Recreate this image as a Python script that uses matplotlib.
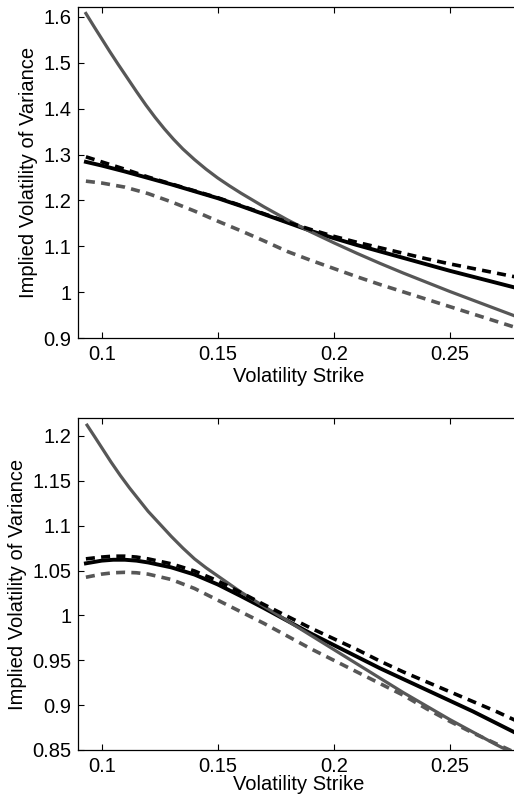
import matplotlib
matplotlib.use("Agg")
import matplotlib.pyplot as plt
from matplotlib.ticker import FixedLocator, FixedFormatter

plt.rcParams['font.family'] = ['Liberation Sans', 'DejaVu Sans']
plt.rcParams['lines.scale_dashes'] = False

# ---------------- top panel data ----------------
top_gray_x = [0.0932, 0.097, 0.100, 0.1035, 0.107, 0.111, 0.115, 0.119, 0.123, 0.127,
              0.131, 0.135, 0.140, 0.145, 0.150, 0.155, 0.160, 0.165, 0.170, 0.175,
              0.180, 0.185, 0.190, 0.195, 0.200, 0.210, 0.220, 0.230, 0.240, 0.250,
              0.260, 0.270, 0.280]
top_gray_y = [1.607, 1.576, 1.552, 1.524, 1.497, 1.467, 1.437, 1.408, 1.381, 1.356,
              1.333, 1.312, 1.289, 1.268, 1.249, 1.232, 1.216, 1.201, 1.186, 1.172,
              1.158, 1.145, 1.132, 1.120, 1.108, 1.085, 1.063, 1.042, 1.022, 1.002,
              0.983, 0.964, 0.945]

top_x = [0.0932, 0.100, 0.110, 0.120, 0.130, 0.140, 0.150, 0.160, 0.170, 0.180,
         0.190, 0.200, 0.210, 0.220, 0.230, 0.240, 0.250, 0.260, 0.270, 0.280]
top_black_y = [1.284, 1.276, 1.263, 1.249, 1.235, 1.220, 1.205, 1.188, 1.170, 1.152,
               1.134, 1.118, 1.103, 1.089, 1.075, 1.061, 1.047, 1.034, 1.021, 1.008]
top_black_dash_y = [1.295, 1.284, 1.268, 1.251, 1.236, 1.221, 1.206, 1.189, 1.171, 1.153,
                    1.137, 1.122, 1.109, 1.097, 1.085, 1.073, 1.062, 1.052, 1.042, 1.032]
top_gray_dash_y = [1.242, 1.238, 1.229, 1.215, 1.197, 1.177, 1.155, 1.134, 1.112, 1.089,
                   1.070, 1.052, 1.034, 1.017, 1.001, 0.985, 0.969, 0.953, 0.937, 0.921]

# ---------------- bottom panel data ----------------
bot_gray_x = [0.0937, 0.097, 0.100, 0.104, 0.108, 0.112, 0.116, 0.120, 0.125, 0.130,
              0.135, 0.140, 0.145, 0.150, 0.155, 0.160, 0.165, 0.170, 0.175, 0.180,
              0.185, 0.190, 0.195, 0.200, 0.210, 0.220, 0.230, 0.240, 0.250, 0.260,
              0.270, 0.280]
bot_gray_y = [1.212, 1.199, 1.187, 1.171, 1.156, 1.142, 1.129, 1.116, 1.102, 1.088,
              1.075, 1.063, 1.053, 1.044, 1.035, 1.026, 1.018, 1.010, 1.002, 0.994,
              0.986, 0.978, 0.970, 0.962, 0.946, 0.930, 0.914, 0.899, 0.884, 0.870,
              0.856, 0.843]

bot_x = [0.0932, 0.100, 0.105, 0.110, 0.115, 0.120, 0.130, 0.140, 0.150, 0.160,
         0.170, 0.180, 0.190, 0.200, 0.210, 0.220, 0.230, 0.240, 0.250, 0.260,
         0.270, 0.280]
bot_black_y = [1.058, 1.061, 1.062, 1.062, 1.061, 1.059, 1.0535, 1.0455, 1.0345, 1.0215,
               1.008, 0.994, 0.980, 0.967, 0.954, 0.941, 0.929, 0.917, 0.905, 0.893,
               0.880, 0.867]
bot_black_dash_y = [1.063, 1.065, 1.066, 1.066, 1.065, 1.063, 1.0575, 1.0495, 1.0385, 1.0255,
                    1.012, 0.999, 0.986, 0.974, 0.962, 0.949, 0.937, 0.926, 0.915, 0.904,
                    0.893, 0.881]
bot_gray_dash_y = [1.0425, 1.046, 1.0475, 1.048, 1.0475, 1.046, 1.040, 1.030, 1.017, 1.004,
                   0.991, 0.977, 0.963, 0.950, 0.937, 0.924, 0.911, 0.896, 0.882, 0.869,
                   0.857, 0.845]

# ---------------- ticks / labels ----------------
x_ticks = [0.1, 0.15, 0.2, 0.25]
x_tick_labels = ['0.1', '0.15', '0.2', '0.25']
top_y_ticks = [0.9, 1.0, 1.1, 1.2, 1.3, 1.4, 1.5, 1.6]
top_y_tick_labels = ['0.9', '1', '1.1', '1.2', '1.3', '1.4', '1.5', '1.6']
bot_y_ticks = [0.85, 0.9, 0.95, 1.0, 1.05, 1.1, 1.15, 1.2]
bot_y_tick_labels = ['0.85', '0.9', '0.95', '1', '1.05', '1.1', '1.15', '1.2']
x_label = 'Volatility Strike'
y_label = 'Implied Volatility of Variance'

GRAY = '#575757'
DASH = (6.5, 4.5)
FS = 14.5

fig = plt.figure(figsize=(5.14, 7.96), dpi=100)
ax1 = fig.add_axes([0.1527, 0.575, 0.8576, 0.4156])
ax2 = fig.add_axes([0.1527, 0.0578, 0.8576, 0.4171])


def style(ax, yt, ytl, ylim, xpad):
    ax.set_xlim(0.09, 0.28)
    ax.set_ylim(*ylim)
    ax.xaxis.set_major_locator(FixedLocator(x_ticks))
    ax.xaxis.set_major_formatter(FixedFormatter(x_tick_labels))
    ax.yaxis.set_major_locator(FixedLocator(yt))
    ax.yaxis.set_major_formatter(FixedFormatter(ytl))
    ax.tick_params(direction='in', top=True, right=False, length=4, width=0.8,
                   labelsize=FS, pad=5)
    for s in ax.spines.values():
        s.set_linewidth(0.9)
    ax.set_xlabel(x_label, fontsize=FS, labelpad=xpad)
    ax.set_ylabel(y_label, fontsize=FS, labelpad=4)


ax1.plot(top_x, top_black_y, color='black', lw=2.8, zorder=2)
ax1.plot(top_gray_x, top_gray_y, color=GRAY, lw=2.3, zorder=3)
ax1.plot(top_x, top_black_dash_y, color='black', lw=2.6, dashes=DASH, zorder=4)
ax1.plot(top_x, top_gray_dash_y, color=GRAY, lw=2.6, dashes=DASH, zorder=4)
style(ax1, top_y_ticks, top_y_tick_labels, (0.9, 1.62), 2)

ax2.plot(bot_x, bot_black_y, color='black', lw=2.8, zorder=2)
ax2.plot(bot_gray_x, bot_gray_y, color=GRAY, lw=2.3, zorder=3)
ax2.plot(bot_x, bot_black_dash_y, color='black', lw=2.6, dashes=DASH, zorder=4)
ax2.plot(bot_x, bot_gray_dash_y, color=GRAY, lw=2.6, dashes=DASH, zorder=4)
style(ax2, bot_y_ticks, bot_y_tick_labels, (0.85, 1.22), -1)

fig.savefig('out.png', dpi=100)
